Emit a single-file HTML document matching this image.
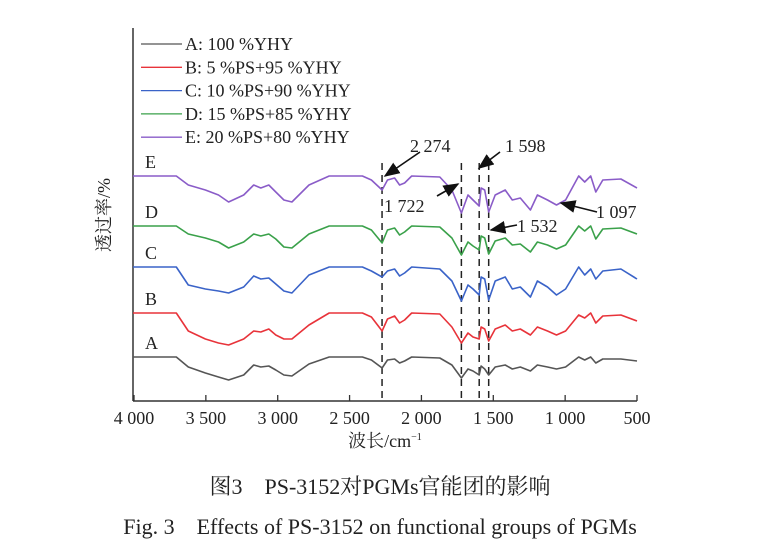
<!DOCTYPE html>
<html><head><meta charset="utf-8"><style>
html,body{margin:0;padding:0;background:#fff;}
svg{display:block;}
text{font-family:"Liberation Serif","Noto Serif CJK SC",serif;fill:#222;}
</style></head><body>
<svg id="chart" width="761" height="555" viewBox="0 0 761 555">
<g id="axes"></g>
<g id="series"></g>
<g id="legend"></g>
<g id="annot"></g>
<text x="110" y="215" font-size="18" text-anchor="middle" transform="rotate(-90 110 215)">透过率/%</text>
<text x="385" y="447" font-size="18" text-anchor="middle">波长/cm<tspan font-size="10" dy="-7">−1</tspan></text>
<text x="380" y="494" font-size="22" text-anchor="middle">图3　PS-3152对PGMs官能团的影响</text>
<text x="380" y="534" font-size="22" text-anchor="middle">Fig. 3　Effects of PS-3152 on functional groups of PGMs</text>
</svg>
<script>
const wavenumbers=[4000,3706,3622,3503,3412,3342,3237,3167,3118,3062,3013,2957,2901,2782,2642,2411,2348,2274,2236,2187,2152,2117,2068,1872,1788,1722,1676,1641,1598,1585,1560,1532,1487,1417,1368,1312,1242,1193,1123,1060,997,906,864,822,787,738,612,500];
const seriesNames=["A","B","C","D","E"];
const legendLabels=["A: 100 %YHY","B: 5 %PS+95 %YHY","C: 10 %PS+90 %YHY","D: 15 %PS+85 %YHY","E: 20 %PS+80 %YHY"];
const colors=["#555555","#e8333a","#3a63c8","#3aa14a","#8a5cc8"];
const baselines=[44,88,134,175,225];
const depthA=[0,0,10,16,20,23,18,8,10,9,13,18,19,7,0,0,3,11,3,2,6,4,0,1,8,21,12,14,18,9,12,18,10,8,12,10,14,8,10,12,10,0,3,0,6,2,2,4];
const depthB=[0,0,18,26,30,32,26,18,19,16,22,26,26,12,0,0,4,18,6,3,10,7,0,1,14,30,20,24,26,14,16,28,16,12,18,16,22,14,18,22,18,2,5,0,10,3,2,8];
const depthC=[0,0,18,22,24,26,20,9,12,11,17,24,26,8,0,0,4,10,4,2,9,6,0,2,14,34,18,22,28,10,12,33,14,10,22,20,30,14,20,28,22,0,8,2,12,4,2,12];
const depthD=[0,0,8,12,16,22,16,8,10,8,13,21,22,8,0,0,4,17,4,2,9,6,0,1,12,29,16,20,24,10,12,28,15,12,19,18,26,16,19,23,19,0,5,0,13,3,2,8];
const depthE=[0,0,9,14,19,26,19,9,12,9,16,24,26,9,0,0,4,14,4,2,9,7,0,1,14,37,19,24,30,12,14,36,19,14,24,22,34,19,24,29,24,0,6,0,16,4,3,12];
const xTicks=[4000,3500,3000,2500,2000,1500,1000,500];
const xTickLabels=["4 000","3 500","3 000","2 500","2 000","1 500","1 000","500"];
const peaks=[2274,1722,1598,1532];

const NS="http://www.w3.org/2000/svg";
const X0=134,X1=637,Y0=401,YT=28;
function xScale(w){return X0+(4000-w)/3500*(X1-X0);}
function yScale(v){return Y0-v;}
function mk(tag,attrs,parent){const e=document.createElementNS(NS,tag);for(const k in attrs)e.setAttribute(k,attrs[k]);parent.appendChild(e);return e;}

const axes=document.getElementById('axes');
let e=mk('line',{x1:133,y1:YT,x2:133,y2:Y0,stroke:'#333','stroke-width':1.5},axes);


e=mk('line',{x1:133,y1:Y0,x2:X1,y2:Y0,stroke:'#333','stroke-width':1.5},axes);


xTicks.forEach((t,i)=>{
  const x=xScale(t);
  let tk=mk('line',{x1:x,y1:Y0,x2:x,y2:Y0-6,stroke:'#333','stroke-width':1.3},axes);
  
  
  let lb=mk('text',{x:x,y:Y0+23,'font-size':18,'text-anchor':'middle'},axes);
  lb.textContent=xTickLabels[i];
  
  
});
peaks.forEach(p=>{
  const x=xScale(p);
  let d=mk('line',{x1:x,y1:163,x2:x,y2:Y0,stroke:'#222','stroke-width':1.5,'stroke-dasharray':'7,5'},axes);
  
  
});

const depths=[depthA,depthB,depthC,depthD,depthE];
const sg=document.getElementById('series');
depths.forEach((dep,i)=>{
  const pts=wavenumbers.map((w,j)=>xScale(w).toFixed(1)+','+yScale(baselines[i]-dep[j]).toFixed(1)).join(' ');
  let pl=mk('polyline',{points:'133,'+yScale(baselines[i])+' '+pts,fill:'none',stroke:colors[i],'stroke-width':1.6,'stroke-linejoin':'round'},sg);
  
  
  let lb=mk('text',{x:145,y:yScale(baselines[i])-8,'font-size':18},sg);
  lb.textContent=seriesNames[i];
  
  
});

const lg=document.getElementById('legend');
legendLabels.forEach((l,i)=>{
  const y=44+i*23.3;
  let ln=mk('line',{x1:141,y1:y,x2:182,y2:y,stroke:colors[i],'stroke-width':1.3},lg);
  
  
  let t=mk('text',{x:185,y:y+6,'font-size':18},lg);
  t.textContent=l;
  
  
});

const an=document.getElementById('annot');
mk('defs',{},an).innerHTML='<marker id="ah" markerWidth="10" markerHeight="8" refX="9" refY="4" orient="auto"><path d="M0,0 L10,4 L0,8 z" fill="#111"/></marker>';
const notes=[["2 274",410,152,420,152,385,176],["1 598",505,152,500,152,479,168],["1 722",384,212,437,196,458,184],["1 532",517,232,517,225,491,230],["1 097",596,218,597,212,561,203]];
notes.forEach(n=>{
  let a=mk('line',{x1:n[3],y1:n[4],x2:n[5],y2:n[6],stroke:'#111','stroke-width':1.6,'marker-end':'url(#ah)'},an);
  
  
  let t=mk('text',{x:n[1],y:n[2],'font-size':18},an);
  t.textContent=n[0];
  
  
});
</script>
</body></html>
